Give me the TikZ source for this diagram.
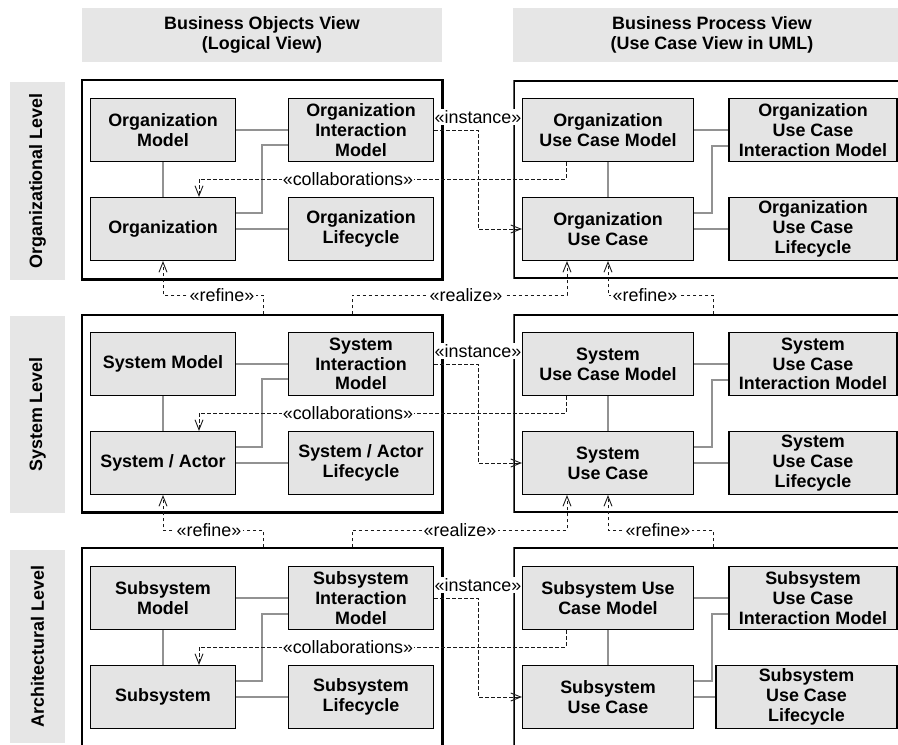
\documentclass[tikz,border=0pt]{standalone}
\usepackage{fontspec}
\setmainfont{Liberation Sans}
\usetikzlibrary{arrows.meta}
\definecolor{boxgray}{HTML}{E4E4E4}
\definecolor{headgray}{HTML}{E6E6E6}
\definecolor{conngray}{HTML}{929292}
\definecolor{depcol}{HTML}{1A1A1A}
\newcommand{\dfont}{\fontsize{17.9}{19.8}\selectfont}
\tikzset{
  box/.style={draw=black, line width=1.1pt, fill=boxgray, minimum height=63pt, inner sep=0pt, align=center, font=\dfont\bfseries},
  wl/.style={box, minimum width=145pt},
  wc/.style={box, minimum width=171pt},
  wd/.style={box, minimum width=168pt},
  head/.style={fill=headgray, inner sep=0pt, align=center, minimum height=54pt, font=\dfont\bfseries},
  side/.style={fill=headgray, inner sep=0pt, rotate=90, minimum height=55pt, font=\dfont\bfseries},
  frame/.style={draw=black, line width=1.3pt, inner sep=0pt},
  conn/.style={draw=conngray, line width=1.1pt},
  dep/.style={draw=depcol, line width=0.9pt, dash pattern=on 3.5pt off 2.5pt, -{Straight Barb[length=10pt,width=8pt,line width=0.9pt]}},
  lbl/.style={fill=white, inner sep=1.2pt, font=\dfont}
}
\begin{document}
\begin{tikzpicture}[x=1pt,y=-1pt]
\useasboundingbox (0,0) rectangle (898,745);
\clip (0,0) rectangle (898,745);
\fill[white] (0,0) rectangle (898,745);

% headers
\node[head, minimum width=360pt] (h1) at (262,35) {Business Objects View\\(Logical View)};
\node[head, minimum width=398pt] (h2) at (712,35) {Business Process View\\(Use Case View in UML)};
% side labels
\node[side, minimum width=198pt] (l1) at (37.5,181) {Organizational Level};
\node[side, minimum width=197pt] (l2) at (37.5,414.5) {System Level};
\node[side, minimum width=193pt] (l3) at (37.5,646.5) {Architectural Level};

% frames
\node[frame, minimum width=360pt, minimum height=199pt] (oL) at (262,179.5) {};
\node[frame, minimum width=400pt, minimum height=197pt] (oR) at (714,179.5) {};
\node[frame, minimum width=360pt, minimum height=197pt] (sL) at (262,413.5) {};
\node[frame, minimum width=400pt, minimum height=197pt] (sR) at (714,413.5) {};
\node[frame, minimum width=360pt, minimum height=212pt] (aL) at (262,654) {};
\node[frame, minimum width=400pt, minimum height=212pt] (aR) at (714,654) {};
\foreach \f in {oL,sL,aL}{
  \draw[line width=2pt] (\f.north east) -- (\f.south east) -- (\f.south west);
}
\foreach \f in {oR,sR,aR}{
  \draw[draw=white, line width=1.6pt] (\f.north west) -- (\f.south west);
  \draw[draw=black!65, line width=1pt] (\f.north west) -- (\f.south west);
}

% ---------- organizational level ----------
\node[wl] (oA1) at (163,130) {Organization\\Model};
\node[wl] (oB1) at (361,130) {Organization\\Interaction\\Model};
\node[wl] (oA2) at (163,229) {Organization};
\node[wl] (oB2) at (361,229) {Organization\\Lifecycle};
\node[wc] (oC1) at (608,130) {Organization\\Use Case Model};
\node[wd] (oD1) at (813,130) {Organization\\Use Case\\Interaction Model};
\node[wc] (oC2) at (608,229) {Organization\\Use Case};
\node[wd] (oD2) at (813,229) {Organization\\Use Case\\Lifecycle};

\draw[conn] (oA1.east) -- (oB1.west);
\draw[conn] (oA1.south) -- (oA2.north);
\draw[conn] (oA2.east |- 0,213) -| (262,145) -- (oB1.west |- 0,145);
\draw[conn] (oA2.east) -- (oB2.west);
\draw[conn] (oC1.east) -- (oD1.west);
\draw[conn] (oC1.south) -- (oC2.north);
\draw[conn] (oC2.east |- 0,213) -| (712,146) -- (oD1.west |- 0,146);
\draw[conn] (oC2.east) -- (oD2.west);

\draw[dep] (oB1.east) -| (478,229) -- (oC2.west);
\draw[dep] (oC1.south -| 566,0) |- (199,179) -- (oA2.north -| 199,0);

% ---------- system level ----------
\node[wl] (sA1) at (163,364) {System Model};
\node[wl] (sB1) at (361,364) {System\\Interaction\\Model};
\node[wl] (sA2) at (163,463) {System / Actor};
\node[wl] (sB2) at (361,463) {System / Actor\\Lifecycle};
\node[wc] (sC1) at (608,364) {System\\Use Case Model};
\node[wd] (sD1) at (813,364) {System\\Use Case\\Interaction Model};
\node[wc] (sC2) at (608,463) {System\\Use Case};
\node[wd] (sD2) at (813,463) {System\\Use Case\\Lifecycle};

\draw[conn] (sA1.east) -- (sB1.west);
\draw[conn] (sA1.south) -- (sA2.north);
\draw[conn] (sA2.east |- 0,447) -| (262,379) -- (sB1.west |- 0,379);
\draw[conn] (sA2.east) -- (sB2.west);
\draw[conn] (sC1.east) -- (sD1.west);
\draw[conn] (sC1.south) -- (sC2.north);
\draw[conn] (sC2.east |- 0,447) -| (712,380) -- (sD1.west |- 0,380);
\draw[conn] (sC2.east) -- (sD2.west);

\draw[dep] (sB1.east) -| (478,463) -- (sC2.west);
\draw[dep] (sC1.south -| 566,0) |- (199,413) -- (sA2.north -| 199,0);

% ---------- architectural level ----------
\node[wl] (aA1) at (163,598) {Subsystem\\Model};
\node[wl] (aB1) at (361,598) {Subsystem\\Interaction\\Model};
\node[wl] (aA2) at (163,697) {Subsystem};
\node[wl] (aB2) at (361,697) {Subsystem\\Lifecycle};
\node[wc] (aC1) at (608,598) {Subsystem Use\\Case Model};
\node[wd] (aD1) at (813,598) {Subsystem\\Use Case\\Interaction Model};
\node[wc] (aC2) at (608,697) {Subsystem\\Use Case};
\node[box, minimum width=181pt] (aD2) at (806.5,697) {Subsystem\\Use Case\\Lifecycle};

\draw[conn] (aA1.east) -- (aB1.west);
\draw[conn] (aA1.south) -- (aA2.north);
\draw[conn] (aA2.east |- 0,681) -| (262,614) -- (aB1.west |- 0,614);
\draw[conn] (aA2.east) -- (aB2.west);
\draw[conn] (aC1.east) -- (aD1.west);
\draw[conn] (aC1.south) -- (aC2.north);
\draw[conn] (aC2.east |- 0,681) -| (712,614) -- (aD1.west |- 0,614);
\draw[conn] (aC2.east) -- (aD2.west);

\draw[dep] (aB1.east) -| (478,697) -- (aC2.west);
\draw[dep] (aC1.south -| 566,0) |- (199,647) -- (aA2.north -| 199,0);

% ---------- inter-level dependencies ----------
\draw[dep] (sL.north -| 263,0) |- (163,295) -- (oA2.south);
\draw[dep] (sL.north -| 352,0) |- (567,295) -- (oC2.south -| 567,0);
\draw[dep] (sR.north -| 713,0) |- (608,295) -- (oC2.south);
\draw[dep] (aL.north -| 263,0) |- (163,530) -- (sA2.south);
\draw[dep] (aL.north -| 352,0) |- (567,530) -- (sC2.south -| 567,0);
\draw[dep] (aR.north -| 713,0) |- (608,530) -- (sC2.south);

% ---------- labels ----------
\node[lbl] (oi) at (478,117) {«instance»};
\node[lbl] (oc) at (348,179) {«collaborations»};
\node[lbl] (si) at (478,351) {«instance»};
\node[lbl] (sc) at (348,413) {«collaborations»};
\node[lbl] (ai) at (478,585) {«instance»};
\node[lbl] (ac) at (348,647) {«collaborations»};
\node[lbl] (r1) at (222,295) {«refine»};
\node[lbl] (z1) at (466,295) {«realize»};
\node[lbl] (r2) at (645,295) {«refine»};
\node[lbl] (r3) at (209,530) {«refine»};
\node[lbl] (z2) at (460,530) {«realize»};
\node[lbl] (r4) at (658,530) {«refine»};
\end{tikzpicture}
\end{document}
